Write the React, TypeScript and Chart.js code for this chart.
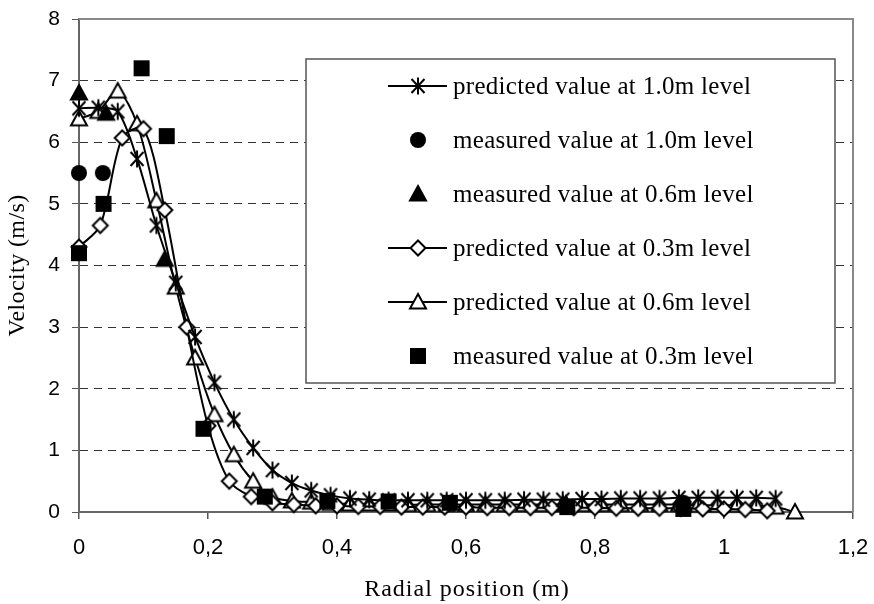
import React, { useEffect, useRef } from 'react';
import { Chart, registerables } from 'chart.js';
Chart.register(...registerables);

// ---- data ----
const pred10X = [0, 0.03, 0.06, 0.09, 0.12, 0.15, 0.18, 0.21, 0.24, 0.27, 0.30, 0.33, 0.36, 0.39, 0.42, 0.45, 0.48, 0.51, 0.54, 0.57, 0.60, 0.63, 0.66, 0.69, 0.72, 0.75, 0.78, 0.81, 0.84, 0.87, 0.90, 0.93, 0.96, 0.99, 1.02, 1.05, 1.08];
const pred10Y = [6.55, 6.56, 6.5, 5.73, 4.65, 3.72, 2.84, 2.1, 1.5, 1.04, 0.68, 0.47, 0.35, 0.27, 0.22, 0.2, 0.19, 0.19, 0.19, 0.19, 0.19, 0.19, 0.19, 0.2, 0.2, 0.2, 0.21, 0.21, 0.22, 0.22, 0.22, 0.23, 0.23, 0.23, 0.23, 0.23, 0.22];

const pred06X = [0, 0.03, 0.06, 0.09, 0.12, 0.15, 0.18, 0.21, 0.24, 0.27, 0.30, 0.33, 0.36, 0.39, 0.42, 0.45, 0.48, 0.51, 0.54, 0.57, 0.60, 0.63, 0.66, 0.69, 0.72, 0.75, 0.78, 0.81, 0.84, 0.87, 0.90, 0.93, 0.96, 0.99, 1.02, 1.05, 1.08, 1.11];
const pred06Y = [6.38, 6.5, 6.83, 6.3, 5.05, 3.65, 2.5, 1.58, 0.93, 0.5, 0.24, 0.18, 0.16, 0.14, 0.13, 0.13, 0.13, 0.12, 0.12, 0.12, 0.12, 0.12, 0.12, 0.12, 0.12, 0.12, 0.12, 0.12, 0.12, 0.12, 0.12, 0.12, 0.11, 0.11, 0.11, 0.1, 0.08, 0.0];

const pred03X = [0, 0.033, 0.067, 0.1, 0.133, 0.167, 0.2, 0.233, 0.267, 0.3, 0.333, 0.367, 0.4, 0.433, 0.467, 0.5, 0.533, 0.567, 0.6, 0.633, 0.667, 0.7, 0.733, 0.767, 0.8, 0.833, 0.867, 0.9, 0.933, 0.967, 1.0, 1.033, 1.067];
const pred03Y = [4.3, 4.65, 6.07, 6.22, 4.9, 3.0, 1.4, 0.5, 0.25, 0.15, 0.12, 0.1, 0.1, 0.09, 0.09, 0.08, 0.08, 0.08, 0.08, 0.07, 0.07, 0.07, 0.07, 0.07, 0.07, 0.06, 0.06, 0.06, 0.06, 0.05, 0.05, 0.04, 0.02];

const meas10X = [0, 0.037, 0.937];
const meas10Y = [5.5, 5.5, 0.15];

const meas06X = [0, 0.042, 0.133, 0.755];
const meas06Y = [6.8, 6.47, 4.1, 0.13];

const meas03X = [0, 0.038, 0.097, 0.136, 0.193, 0.288, 0.385, 0.48, 0.575, 0.757, 0.937];
const meas03Y = [4.2, 5.0, 7.2, 6.1, 1.35, 0.25, 0.18, 0.17, 0.15, 0.08, 0.05];

const seriesNames = [
  'predicted value at 1.0m level',
  'measured value at 1.0m level',
  'measured value at 0.6m level',
  'predicted value at 0.3m level',
  'predicted value at 0.6m level',
  'measured value at 0.3m level',
];

const xTickValues = [0, 0.2, 0.4, 0.6, 0.8, 1, 1.2];
const yTickValues = [0, 1, 2, 3, 4, 5, 6, 7, 8];

const xTitle = 'Radial position (m)';
const yTitle = 'Velocity (m/s)';

// ---- markers ----
function makeMarker(kind: string): HTMLCanvasElement {
  const s = 24;
  const c = document.createElement('canvas');
  c.width = s;
  c.height = s;
  const g = c.getContext('2d') as CanvasRenderingContext2D;
  g.translate(s / 2, s / 2);
  g.lineWidth = 2;
  g.strokeStyle = '#000';
  g.fillStyle = '#000';
  g.lineJoin = 'miter';
  if (kind === 'star') {
    g.beginPath();
    g.moveTo(-6.5, -7); g.lineTo(6.5, 7);
    g.moveTo(6.5, -7); g.lineTo(-6.5, 7);
    g.moveTo(0, -8.5); g.lineTo(0, 8.5);
    g.stroke();
  } else if (kind === 'diamond') {
    g.beginPath();
    g.moveTo(0, -7.5); g.lineTo(7.5, 0); g.lineTo(0, 7.5); g.lineTo(-7.5, 0);
    g.closePath();
    g.fillStyle = '#fff';
    g.fill();
    g.stroke();
  } else if (kind === 'tri' || kind === 'ftri') {
    g.beginPath();
    g.moveTo(0, -8); g.lineTo(8, 6.5); g.lineTo(-8, 6.5);
    g.closePath();
    g.fillStyle = kind === 'tri' ? '#fff' : '#000';
    g.fill();
    g.stroke();
  } else if (kind === 'circle') {
    g.beginPath();
    g.arc(0, 0, 8, 0, Math.PI * 2);
    g.fill();
  } else if (kind === 'square') {
    g.fillRect(-8, -8, 16, 16);
  }
  return c;
}

function pts(xs: number[], ys: number[]) {
  return xs.map((x, i) => ({ x, y: ys[i] }));
}

function fmtX(v: number) {
  return String(Number(v.toFixed(1))).replace('.', ',');
}

export default function App() {
  const ref = useRef<HTMLCanvasElement>(null);

  useEffect(() => {
    const canvas = ref.current;
    if (!canvas) return;
    const mk = {
      star: makeMarker('star'),
      circle: makeMarker('circle'),
      ftri: makeMarker('ftri'),
      diamond: makeMarker('diamond'),
      tri: makeMarker('tri'),
      square: makeMarker('square'),
    };
    const legendItems = [
      { name: seriesNames[0], marker: mk.star, line: true },
      { name: seriesNames[1], marker: mk.circle, line: false },
      { name: seriesNames[2], marker: mk.ftri, line: false },
      { name: seriesNames[3], marker: mk.diamond, line: true },
      { name: seriesNames[4], marker: mk.tri, line: true },
      { name: seriesNames[5], marker: mk.square, line: false },
    ];

    const framePlugin = {
      id: 'frameLegend',
      afterDatasetsDraw(chart: any) {
        const { ctx, chartArea: a } = chart;
        ctx.save();
        // top & right frame
        ctx.strokeStyle = '#8a8a8a';
        ctx.lineWidth = 2;
        ctx.setLineDash([]);
        ctx.beginPath();
        ctx.moveTo(a.left, a.top);
        ctx.lineTo(a.right, a.top);
        ctx.lineTo(a.right, a.bottom);
        ctx.stroke();
        // legend box
        const bx = 306, by = 59, bw = 529, bh = 324;
        ctx.fillStyle = '#fff';
        ctx.fillRect(bx, by, bw, bh);
        ctx.strokeStyle = '#555';
        ctx.lineWidth = 1.5;
        ctx.strokeRect(bx, by, bw, bh);
        const rowH = 54;
        ctx.font = '25px "Liberation Serif", serif';
        (ctx as any).letterSpacing = '0.3px';
        ctx.textBaseline = 'middle';
        ctx.textAlign = 'left';
        legendItems.forEach((it, i) => {
          const cy = 86 + i * rowH;
          if (it.line) {
            ctx.strokeStyle = '#000';
            ctx.lineWidth = 2;
            ctx.beginPath();
            ctx.moveTo(388, cy);
            ctx.lineTo(447, cy);
            ctx.stroke();
          }
          const m = it.marker;
          ctx.drawImage(m, 418 - m.width / 2, cy - m.height / 2);
          ctx.fillStyle = '#000';
          ctx.fillText(it.name, 453, cy + 1);
        });
        // axis titles
        ctx.fillStyle = '#000';
        ctx.textAlign = 'center';
        ctx.textBaseline = 'middle';
        ctx.font = '24px "Liberation Serif", serif';
        (ctx as any).letterSpacing = '1px';
        ctx.fillText(xTitle, (a.left + a.right) / 2 + 1, 590);
        (ctx as any).letterSpacing = '0.4px';
        ctx.translate(18, (a.top + a.bottom) / 2);
        ctx.rotate(-Math.PI / 2);
        ctx.fillText(yTitle, 0, 0);
        ctx.restore();
      },
    };

    const lineDs = (label: string, data: any[], marker: HTMLCanvasElement) => ({
      label,
      data,
      showLine: true,
      borderColor: '#000',
      borderWidth: 2,
      tension: 0.3,
      pointStyle: marker,
      pointRadius: 8,
      clip: false as any,
      order: 2,
    });
    const markDs = (label: string, data: any[], marker: HTMLCanvasElement) => ({
      label,
      data,
      showLine: false,
      pointStyle: marker,
      pointRadius: 8,
      clip: false as any,
      order: 1,
    });

    const chart = new Chart(canvas, {
      type: 'scatter',
      data: {
        datasets: [
          lineDs(seriesNames[0], pts(pred10X, pred10Y), mk.star),
          markDs(seriesNames[1], pts(meas10X, meas10Y), mk.circle),
          markDs(seriesNames[2], pts(meas06X, meas06Y), mk.ftri),
          lineDs(seriesNames[3], pts(pred03X, pred03Y), mk.diamond),
          lineDs(seriesNames[4], pts(pred06X, pred06Y), mk.tri),
          markDs(seriesNames[5], pts(meas03X, meas03Y), mk.square),
        ] as any,
      },
      options: {
        animation: false,
        responsive: false,
        devicePixelRatio: 1,
        layout: { padding: { top: 19, right: 21, left: 0, bottom: 0 } },
        plugins: { legend: { display: false }, tooltip: { enabled: false } },
        events: [],
        scales: {
          x: {
            type: 'linear',
            min: 0,
            max: 1.2,
            afterBuildTicks: (s: any) => { s.ticks = xTickValues.map((v) => ({ value: v })); },
            ticks: {
              callback: (v: any) => fmtX(Number(v)),
              font: { family: '"Liberation Sans", Arial, sans-serif', size: 22 },
              color: '#000',
              padding: 16,
              maxRotation: 0,
              autoSkip: false,
            },
            grid: { drawOnChartArea: false, drawTicks: true, tickLength: 7, tickColor: '#555', lineWidth: 1.5 },
            border: { color: '#666', width: 2 },
            title: { display: false },
            afterFit: (s: any) => { s.height = 92; s.paddingRight = 0; s.paddingLeft = 0; },
          },
          y: {
            min: 0,
            max: 8,
            afterBuildTicks: (s: any) => { s.ticks = yTickValues.map((v) => ({ value: v })); },
            ticks: {
              font: { family: '"Liberation Sans", Arial, sans-serif', size: 21 },
              color: '#000',
              padding: 12,
            },
            grid: {
              color: (c: any) => (c.tick && (c.tick.value === 0 || c.tick.value === 8) ? 'rgba(0,0,0,0)' : '#333'),
              lineWidth: 1,
              tickLength: 7,
              tickColor: '#555',
              tickBorderDash: [],
            },
            border: { color: '#666', width: 2, dash: [8, 6] },
            title: { display: false },
            afterFit: (s: any) => { s.width = 79; s.paddingTop = 0; s.paddingBottom = 0; },
          },
        },
      } as any,
      plugins: [framePlugin],
    });
    return () => chart.destroy();
  }, []);

  return (
    <div style={{ position: 'absolute', left: 0, top: 0, width: 874, height: 604, background: '#fff' }}>
      <canvas ref={ref} width={874} height={604} style={{ display: 'block', width: 874, height: 604 }} />
    </div>
  );
}
